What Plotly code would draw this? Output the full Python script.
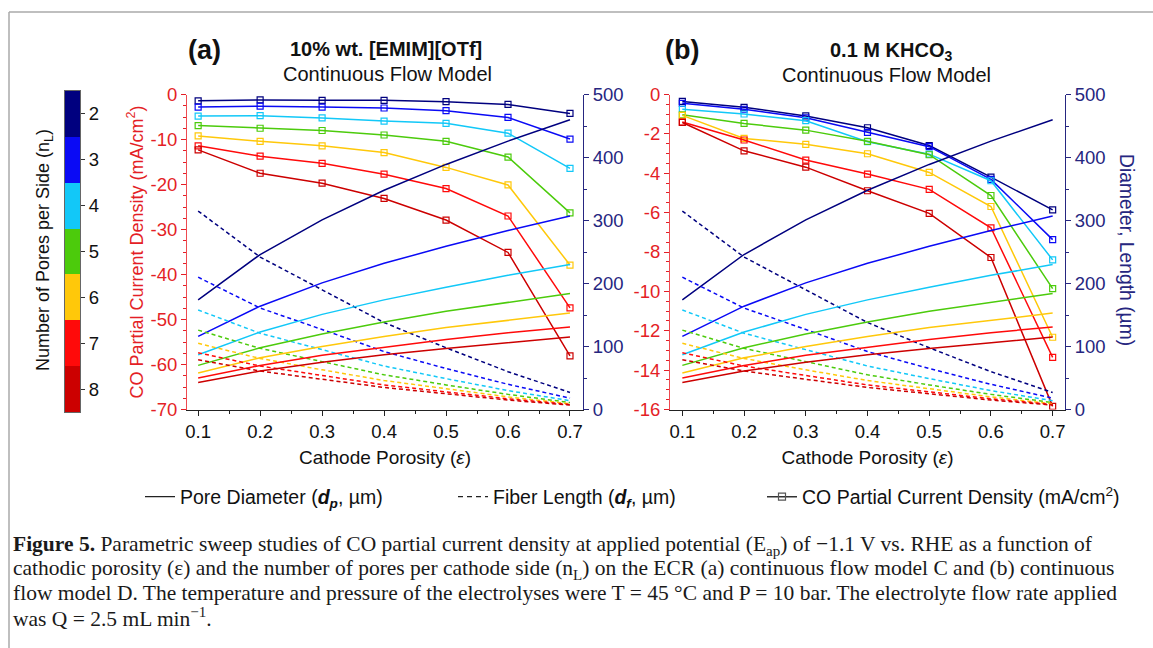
import plotly.graph_objects as go

# ---- data -------------------------------------------------------------
porosity = [0.1, 0.2, 0.3, 0.4, 0.5, 0.6, 0.7]
pores_per_side = [2, 3, 4, 5, 6, 7, 8]
series_colors = ["#00007F", "#0A0AF5", "#12C8F8", "#4CCB0C", "#FFC80A", "#FF0A0A", "#CC0000"]

# pore diameter d_p (um), one row per n_L (same geometry in both panels)
pore_diameter_um = [
    [174, 246, 301, 348, 389, 426, 460],
    [116, 164, 201, 232, 259, 284, 307],
    [87, 123, 151, 174, 194, 213, 230],
    [70, 98, 120, 139, 156, 170, 184],
    [58, 82, 100, 116, 130, 142, 153],
    [50, 70, 86, 99, 111, 122, 131],
    [43, 61, 75, 87, 97, 106, 115],
]

# fiber length d_f (um), one row per n_L
fiber_length_um = [
    [315, 242, 190, 138, 98, 60, 27],
    [210, 161, 127, 92, 65, 40, 18],
    [158, 121, 95, 69, 49, 30, 14],
    [126, 97, 76, 55, 39, 24, 11],
    [105, 81, 63, 46, 33, 20, 9],
    [90, 69, 54, 39, 28, 17, 8],
    [79, 61, 48, 35, 25, 15, 7],
]

# CO partial current density (mA/cm2), 10% wt. [EMIM][OTf]
co_current_emim = [
    [-1.4, -1.2, -1.3, -1.3, -1.6, -2.2, -4.2],
    [-2.8, -2.6, -2.8, -3.0, -3.6, -5.1, -9.9],
    [-4.8, -4.7, -5.2, -5.9, -6.4, -8.6, -16.4],
    [-6.9, -7.5, -8.0, -9.0, -10.4, -13.9, -26.3],
    [-9.2, -10.4, -11.4, -12.9, -16.2, -20.1, -37.9],
    [-11.4, -13.7, -15.3, -17.7, -20.9, -27.0, -47.4],
    [-12.3, -17.5, -19.7, -23.1, -27.9, -35.1, -58.1],
]

# CO partial current density (mA/cm2), 0.1 M KHCO3
co_current_khco3 = [
    [-0.35, -0.65, -1.09, -1.69, -2.59, -4.20, -5.86],
    [-0.45, -0.75, -1.18, -1.92, -2.65, -4.31, -7.37],
    [-0.75, -0.99, -1.33, -2.40, -3.03, -4.38, -8.40],
    [-1.03, -1.47, -1.81, -2.38, -3.06, -5.13, -9.86],
    [-1.06, -2.23, -2.53, -3.01, -3.96, -5.69, -12.33],
    [-1.40, -2.31, -3.33, -4.04, -4.82, -6.77, -13.35],
    [-1.42, -2.86, -3.69, -4.89, -6.04, -8.28, -15.84],
]

x_tick_labels = ["0.1", "0.2", "0.3", "0.4", "0.5", "0.6", "0.7"]
ya_tick_vals = [0, -10, -20, -30, -40, -50, -60, -70]
ya_tick_labels = ["0", "-10", "-20", "-30", "-40", "-50", "-60", "-70"]
yb_tick_vals = [0, -2, -4, -6, -8, -10, -12, -14, -16]
yb_tick_labels = ["0", "-2", "-4", "-6", "-8", "-10", "-12", "-14", "-16"]
right_tick_vals = [0, 100, 200, 300, 400, 500]

# ---- styling ----------------------------------------------------------
W, H = 1153, 648
SANS = "Liberation Sans, Arial, sans-serif"
SERIF = "Liberation Serif, Times New Roman, serif"
RED = "#E41E26"
NAVY = "#262680"
TICK_SIZE = 18.5


def px(x):
    return x / W


def py(y):
    return 1 - y / H


fig = go.Figure()

panels = [
    ("x", "y", "y2", co_current_emim),
    ("x2", "y3", "y4", co_current_khco3),
]

for xa, ycur, ydim, current in panels:
    for i, n in enumerate(pores_per_side):
        c = series_colors[i]
        fig.add_trace(go.Scatter(
            x=porosity, y=pore_diameter_um[i], xaxis=xa, yaxis=ydim,
            mode="lines", line=dict(color=c, width=1.5), showlegend=False,
            name=f"d_p n_L={n}"))
        fig.add_trace(go.Scatter(
            x=porosity, y=fiber_length_um[i], xaxis=xa, yaxis=ydim,
            mode="lines", line=dict(color=c, width=1.5, dash="4px,3px"),
            showlegend=False, name=f"d_f n_L={n}"))
    for i, n in enumerate(pores_per_side):
        c = series_colors[i]
        fig.add_trace(go.Scatter(
            x=porosity, y=current[i], xaxis=xa, yaxis=ycur,
            mode="lines+markers", line=dict(color=c, width=1.5),
            marker=dict(symbol="square-open", size=6, color=c, line=dict(width=1.2)),
            showlegend=False, name=f"j_CO n_L={n}"))

# discrete colour key for n_L
band = []
for i, c in enumerate(series_colors):
    band += [[i / 7, c], [(i + 1) / 7, c]]
fig.add_trace(go.Heatmap(
    x=[0], y=pores_per_side, z=[[n] for n in pores_per_side],
    colorscale=band, zmin=1.5, zmax=8.5, showscale=False,
    xaxis="x5", yaxis="y5", hoverinfo="skip"))

# legend entries, one legend box each
fig.add_trace(go.Scatter(
    x=[None], y=[None], mode="lines", line=dict(color="#222", width=1.2),
    name="Pore Diameter (<b><i>d<sub>p</sub></i></b>, µm)", legend="legend"))
fig.add_trace(go.Scatter(
    x=[None], y=[None], mode="lines", line=dict(color="#222", width=1.2, dash="5px,4px"),
    name="Fiber Length (<b><i>d<sub>f</sub></i></b>, µm)", legend="legend2"))
fig.add_trace(go.Scatter(
    x=[None], y=[None], mode="lines+markers", line=dict(color="#333", width=1.5),
    marker=dict(symbol="square-open", size=7, color="#555", line=dict(width=1.2)),
    name="CO Partial Current Density (mA/cm<sup>2</sup>)", legend="legend3"))

dom_y = [py(409.5), py(94.5)]
dom_xa = [px(187), px(583)]
dom_xb = [px(670), px(1065)]
range_xa = [0.082, 0.721]
range_xb = [0.080, 0.720]

tickfont = dict(family=SANS, size=TICK_SIZE, color="#111")
minor_x = [0.15, 0.25, 0.35, 0.45, 0.55, 0.65]


def bottom_axis(domain, rng, anchor):
    return dict(
        domain=domain, range=rng, anchor=anchor, automargin=False,
        tickmode="array", tickvals=porosity, ticktext=x_tick_labels,
        ticks="outside", ticklen=5, tickwidth=1, tickcolor="#222",
        minor=dict(tickvals=minor_x, ticks="outside", ticklen=3, tickcolor="#222"),
        showline=True, linecolor="#222", linewidth=1, showgrid=False, zeroline=False,
        tickfont=tickfont,
        title=dict(text="Cathode Porosity (<i>ε</i>)", font=dict(family=SANS, size=19, color="#111"),
                   standoff=9),
    )


def top_axis(over, rng, anchor):
    return dict(
        overlaying=over, side="top", anchor=anchor, range=rng, automargin=False,
        tickmode="array", tickvals=porosity, showticklabels=False,
        ticks="inside", ticklen=5, tickcolor="#222",
        minor=dict(tickvals=minor_x, ticks="inside", ticklen=3, tickcolor="#222"),
        showline=True, linecolor="#222", linewidth=1, showgrid=False, zeroline=False,
    )


def left_axis(anchor, rng, vals, labels, minor_step, title):
    return dict(
        domain=dom_y, anchor=anchor, range=rng, automargin=False,
        tickmode="array", tickvals=vals, ticktext=labels,
        ticks="outside", ticklen=5, tickcolor=RED,
        minor=dict(dtick=minor_step, ticks="outside", ticklen=3, tickcolor=RED),
        showline=True, linecolor="#EE4A50", linewidth=1, showgrid=False, zeroline=False,
        tickfont=dict(family=SANS, size=TICK_SIZE, color=RED),
        title=dict(text=title, font=dict(family=SANS, size=18, color=RED), standoff=2),
    )


def right_axis(over, anchor):
    return dict(
        overlaying=over, side="right", anchor=anchor, range=[0, 500], automargin=False,
        tickmode="array", tickvals=right_tick_vals,
        ticks="outside", ticklen=5, tickcolor=NAVY,
        minor=dict(dtick=50, ticks="outside", ticklen=3, tickcolor=NAVY),
        showline=True, linecolor=NAVY, linewidth=1, showgrid=False, zeroline=False,
        tickfont=dict(family=SANS, size=TICK_SIZE, color=NAVY),
    )


def legend_box(x):
    return dict(orientation="h", x=px(x), y=py(497), xanchor="left", yanchor="middle",
                font=dict(family=SANS, size=19.5, color="#111"), bgcolor="rgba(0,0,0,0)",
                itemwidth=30)


annotations = []


def note(text, x, y, size=17, bold=False, color="#111", family=SANS, angle=0, xanchor="center"):
    annotations.append(dict(
        text=f"<b>{text}</b>" if bold else text, x=px(x), y=py(y), xref="paper", yref="paper",
        showarrow=False, xanchor=xanchor, yanchor="middle", textangle=angle,
        font=dict(family=family, size=size, color=color)))


note("(a)", 204, 50, size=27, bold=True)
note("10% wt. [EMIM][OTf]", 386, 49, size=20, bold=True)
note("Continuous Flow Model", 388, 74, size=20)
note("(b)", 682, 50, size=27, bold=True)
note("0.1 M KHCO<sub>3</sub>", 891, 51, size=20, bold=True)
note("Continuous Flow Model", 886, 75, size=20)
note("Diameter, Length (µm)", 1126, 250, size=19.3, color=NAVY, angle=90)
note("Number of Pores per Side (n<sub>L</sub>)", 45, 250, size=18, angle=-90)

caption = [
    "<b>Figure 5.</b> Parametric sweep studies of CO partial current density at applied potential (E<sub>ap</sub>) of −1.1 V vs. RHE as a function of",
    "cathodic porosity (ε) and the number of pores per cathode side (n<sub>L</sub>) on the ECR (a) continuous flow model C and (b) continuous",
    "flow model D. The temperature and pressure of the electrolyses were T = 45 °C and P = 10 bar. The electrolyte flow rate applied",
    "was Q = 2.5 mL min<sup>−1</sup>.",
]
for k, line in enumerate(caption):
    note(line, 11, 545 + 24 * k, size=21.5, family=SERIF, color="#1A1A1A", xanchor="left")

fig.update_layout(
    width=W, height=H, margin=dict(l=0, r=0, t=0, b=0, autoexpand=False),
    paper_bgcolor="white", plot_bgcolor="rgba(0,0,0,0)",
    font=dict(family=SANS, size=16, color="#111"),
    xaxis=bottom_axis(dom_xa, range_xa, "y"),
    yaxis=left_axis("x", [-70, 0], ya_tick_vals, ya_tick_labels, 2.5,
                    "CO Partial Current Density (mA/cm<sup>2</sup>)"),
    yaxis2=right_axis("y", "x"),
    xaxis3=top_axis("x", range_xa, "y"),
    xaxis2=bottom_axis(dom_xb, range_xb, "y3"),
    yaxis3=left_axis("x2", [-16, 0], yb_tick_vals, yb_tick_labels, 0.5, ""),
    yaxis4=right_axis("y3", "x2"),
    xaxis4=top_axis("x2", range_xb, "y3"),
    xaxis5=dict(domain=[px(65), px(80)], anchor="y5", range=[-0.5, 0.5], automargin=False,
                showticklabels=False, ticks="", showgrid=False, zeroline=False,
                showline=True, mirror=True, linecolor="#666", linewidth=1),
    yaxis5=dict(domain=[py(412), py(91)], anchor="x5", range=[8.5, 1.5], side="right",
                automargin=False,
                tickmode="array", tickvals=pores_per_side, ticks="outside", ticklen=4,
                tickcolor="#333", showgrid=False, zeroline=False,
                showline=True, mirror=True, linecolor="#666", linewidth=1,
                tickfont=dict(family=SANS, size=TICK_SIZE, color="#111")),
    legend=legend_box(140),
    legend2=legend_box(453),
    legend3=legend_box(762),
    annotations=annotations,
    shapes=[
        dict(type="line", xref="paper", yref="paper", x0=px(9), x1=1.02, y0=py(12), y1=py(12),
             line=dict(color="#AAAAAA", width=1.5)),
        dict(type="line", xref="paper", yref="paper", x0=px(9), x1=px(9), y0=py(12), y1=-0.02,
             line=dict(color="#AAAAAA", width=1.5)),
    ],
)

fig.write_html("out.html")
